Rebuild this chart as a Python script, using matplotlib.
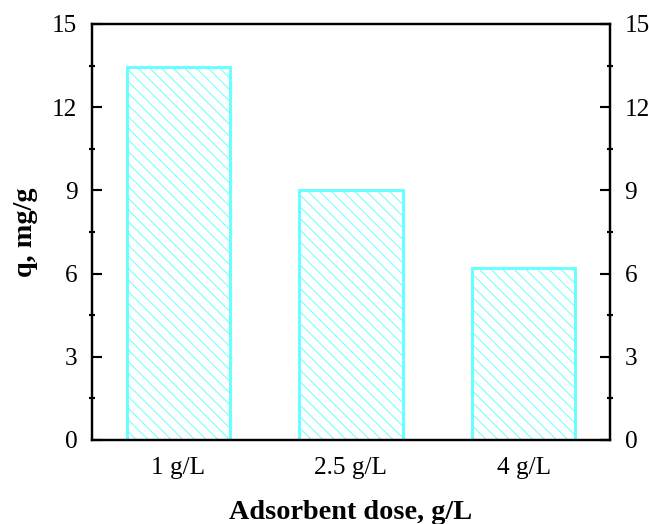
import numpy as np
import matplotlib
matplotlib.use('Agg')
import matplotlib.pyplot as plt
from matplotlib.ticker import MultipleLocator

# data
doses = ['1 g/L', '2.5 g/L', '4 g/L']
q_values = [13.45, 9.0, 6.2]

plt.rcParams['font.family'] = ['Liberation Serif', 'DejaVu Serif']
plt.rcParams['hatch.linewidth'] = 1.0

dpi = 70
fig = plt.figure(figsize=(649 / dpi, 524 / dpi), dpi=dpi)
ax = fig.add_axes([92 / 649, 1 - 440 / 524, (610 - 92) / 649, (440 - 24) / 524])

x = np.arange(len(doses))
ax.bar(x, q_values, width=0.6, color='white', edgecolor='#66ffff',
       linewidth=3, hatch='\\\\')

ax.set_xlim(-0.5, 2.5)
ax.set_ylim(0, 15)
ax.set_xticks(x)
ax.set_xticklabels(doses, fontsize=26)
ax.yaxis.set_major_locator(MultipleLocator(3))
ax.yaxis.set_minor_locator(MultipleLocator(1.5))

ax.tick_params(axis='x', length=0, pad=17)
ax.tick_params(axis='y', which='major', direction='in', length=10, width=2.2,
               left=True, right=True, labelleft=True, labelright=True,
               labelsize=26, pad=15)
ax.tick_params(axis='y', which='minor', direction='inout', length=7, width=2.2,
               left=True, right=True)

for s in ax.spines.values():
    s.set_linewidth(2.5)

ax.set_xlabel('Adsorbent dose, g/L', fontsize=29, fontweight='bold', labelpad=22)
ax.set_ylabel('q, mg/g', fontsize=29, fontweight='bold', labelpad=15)

fig.savefig('out.png', dpi=dpi)
